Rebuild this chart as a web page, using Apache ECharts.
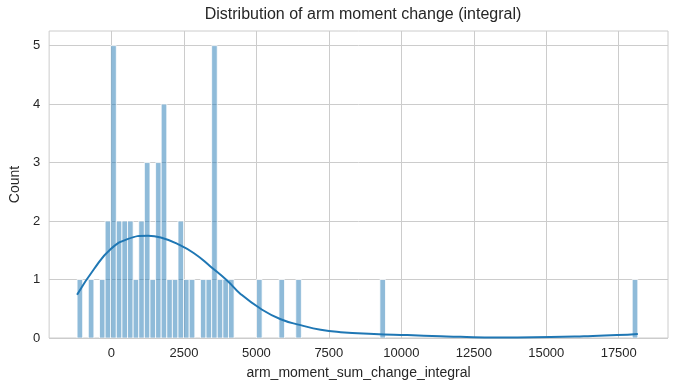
<!DOCTYPE html>
<html>
<head>
<meta charset="utf-8">
<script src="https://cdn.jsdelivr.net/npm/echarts@6/dist/echarts.min.js"></script>
<style>
html,body{margin:0;padding:0;background:#fff;}
#chart{width:677px;height:391px;}
</style>
</head>
<body>
<div id="chart"></div>
<script>
// Histogram: 100 equal bins from binStart, width binWidth
const binStart = -1186;
const binWidth = 193.45;
const counts = [
  1,0,1,0,1,2,5,2,2,2,
  1,2,3,1,3,4,1,1,2,1,
  1,0,1,1,5,1,1,1,0,0,
  0,0,1,0,0,0,1,0,0,1,
  0,0,0,0,0,0,0,0,0,0,
  0,0,0,0,1,0,0,0,0,0,
  0,0,0,0,0,0,0,0,0,0,
  0,0,0,0,0,0,0,0,0,0,
  0,0,0,0,0,0,0,0,0,0,
  0,0,0,0,0,0,0,0,0,1
];
// KDE curve (x value, count)
const kdeX = [-1186,-600,-24,552,1262,1700,2276,2848,3424,3998,4460,5148,5838,6528,7217,7907,9055,10207,11355,12045,13300,14000,15148,16297,17448,18159];
const kdeY = [0.74,1.18,1.52,1.69,1.75,1.72,1.61,1.45,1.22,0.98,0.75,0.50,0.32,0.22,0.14,0.10,0.07,0.05,0.03,0.02,0.01,0.01,0.015,0.03,0.05,0.07];
const xTicks = [0,2500,5000,7500,10000,12500,15000,17500];
const yTicks = [0,1,2,3,4,5];
const titleText = 'Distribution of arm moment change (integral)';
const xName = 'arm_moment_sum_change_integral';
const yName = 'Count';

const barData = counts.map((c,i)=>[binStart+i*binWidth, binStart+(i+1)*binWidth, c]).filter(d=>d[2]>0);
const kdeData = kdeX.map((x,i)=>[x,kdeY[i]]);

const chart = echarts.init(document.getElementById('chart'), null, {renderer:'canvas'});
const font = '"Liberation Sans", Arial, sans-serif';
chart.setOption({
  animation:false,
  backgroundColor:'#fff',
  title:{text:titleText, left:358, top:2, textAlign:'center',
    textStyle:{fontFamily:font, fontSize:16, fontWeight:'normal', color:'#262626'}},
  grid:{left:48, right:9, top:31, bottom:53, show:true, borderColor:'#cccccc', borderWidth:1},
  xAxis:{type:'value', min:-2150, max:19200,
    name:xName, nameLocation:'middle', nameGap:28,
    nameTextStyle:{fontFamily:font, fontSize:14, color:'#262626'},
    axisLine:{show:false}, axisTick:{show:false, customValues:xTicks},
    axisLabel:{customValues:xTicks, fontFamily:font, fontSize:13, color:'#262626', margin:9, formatter:v=>String(v)},
    splitLine:{show:true, lineStyle:{color:'#cccccc', width:1}}},
  yAxis:{type:'value', min:0, max:5.25,
    name:yName, nameLocation:'middle', nameGap:26, nameRotate:90,
    nameTextStyle:{fontFamily:font, fontSize:14, color:'#262626'},
    axisLine:{show:false}, axisTick:{show:false, customValues:yTicks},
    axisLabel:{customValues:yTicks, fontFamily:font, fontSize:13, color:'#262626', margin:9},
    splitLine:{show:true, lineStyle:{color:'#cccccc', width:1}}},
  series:[
    {type:'custom', data:barData, clip:true,
     renderItem:function(params, api){
       const p0 = api.coord([api.value(0), api.value(2)]);
       const p1 = api.coord([api.value(1), 0]);
       return {type:'rect', shape:{x:p0[0], y:p0[1], width:p1[0]-p0[0], height:p1[1]-p0[1]},
         style:{fill:'rgba(31,119,180,0.5)', stroke:'#ffffff', lineWidth:0.8}};
     }, z:2},
    {type:'line', data:kdeData, smooth:0.5, showSymbol:false, symbol:'none',
     lineStyle:{color:'#1f77b4', width:2}, z:3}
  ]
});
</script>
</body>
</html>
